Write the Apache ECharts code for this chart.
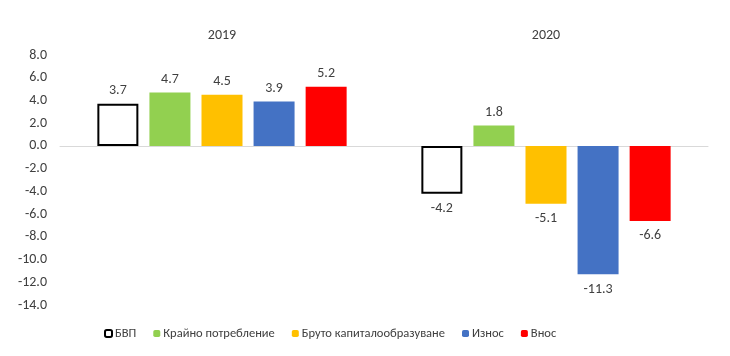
<!DOCTYPE html>
<html><head><meta charset="utf-8">
<script src="https://cdn.jsdelivr.net/npm/echarts@6/dist/echarts.min.js"></script>
<style>html,body{margin:0;padding:0;background:#fff}#c{width:730px;height:356px}</style>
</head><body><div id="c"></div>
<script>
const categories = ['2019', '2020'];
const seriesNames = ['БВП', 'Крайно потребление', 'Бруто капиталообразуване', 'Износ', 'Внос'];
const gdp = [3.7, -4.2];
const finalConsumption = [4.7, 1.8];
const grossCapital = [4.5, -5.1];
const exportsV = [3.9, -11.3];
const importsV = [5.2, -6.6];
const yTicks = { min: -14, max: 8, interval: 2 };

const values = [gdp, finalConsumption, grossCapital, exportsV, importsV];
const colors = ['#ffffff', '#92d050', '#ffc000', '#4472c4', '#ff0000'];
const font = 'Calibri, Carlito, Lato, "Liberation Sans", sans-serif';
const txt = '#404040';

const series = seriesNames.map((name, i) => ({
  name,
  type: 'bar',
  xAxisIndex: 0,
  barWidth: 41,
  barGap: '27%',
  itemStyle: i === 0 ? { color: '#ffffff', borderColor: '#000000', borderWidth: 2 } : { color: colors[i] },
  label: { show: true, position: 'top', distance: 6, color: txt, fontSize: 14, fontFamily: font,
           formatter: p => p.value.toFixed(1) },
  data: values[i].map(v => v < 0 ? { value: v, label: { position: 'bottom', distance: 8 } } : v)
}));

const chart = echarts.init(document.getElementById('c'));
chart.setOption({
  animation: false,
  backgroundColor: '#ffffff',
  grid: { left: 60, right: 22, top: 55, bottom: 51 },
  xAxis: [
    { type: 'category', data: categories, position: 'top', axisLine: { show: false, onZero: false }, axisTick: { show: false },
      axisLabel: { color: txt, fontSize: 14, fontFamily: font, margin: 13 } },
    { type: 'category', data: categories, position: 'bottom', axisLine: { onZero: true, lineStyle: { color: '#d9d9d9', width: 1 } },
      axisTick: { show: false }, axisLabel: { show: false } }
  ],
  yAxis: { type: 'value', min: yTicks.min, max: yTicks.max, interval: yTicks.interval,
    axisLine: { show: false }, axisTick: { show: false }, splitLine: { show: false },
    axisLabel: { color: txt, fontSize: 14, fontFamily: font, margin: 13, formatter: v => v.toFixed(1) } },
  legend: {
    left: 99, bottom: 11, itemWidth: 7, itemHeight: 7, itemGap: 17,
    textStyle: { color: txt, fontSize: 12.5, fontFamily: font, padding: [0, 0, 0, -2] },
    data: seriesNames.map((n, i) => i === 0 ? { name: n, itemStyle: { color: '#fff', borderColor: '#000', borderWidth: 2 } } : { name: n })
  },
  series
});
</script></body></html>
